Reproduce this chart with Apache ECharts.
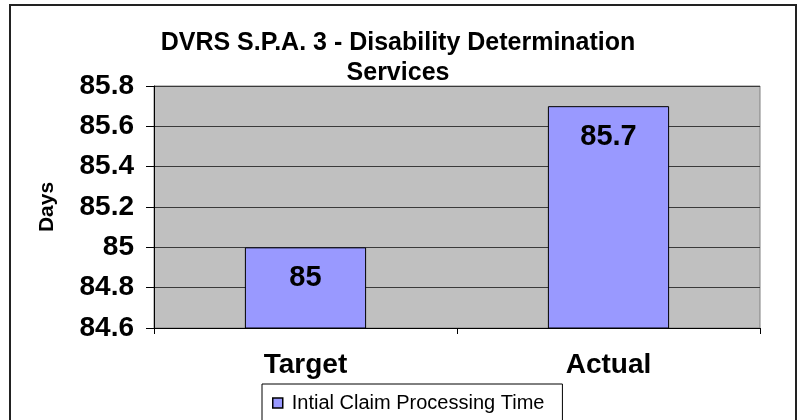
<!DOCTYPE html>
<html>
<head>
<meta charset="utf-8">
<script src="https://cdn.jsdelivr.net/npm/echarts@6/dist/echarts.min.js"></script>
<style>
    html, body { margin: 0; padding: 0; background: #fff; }
    #Root { width: 800px; height: 420px; }
</style>
</head>
<body>
<div id="Root"></div>
<script>
    // chart data
    const categories = ["Target", "Actual"]
    const processingDays = [85, 85.7]
    const seriesName = "Intial Claim Processing Time"
    const yMin = 84.6
    const yMax = 85.8
    const yStep = 0.2

    const FONT = '"Liberation Sans", Arial, sans-serif'

    let chart = echarts.init(document.getElementById("Root"), null, { renderer: 'canvas' })

    let options = {
        backgroundColor: '#ffffff',
        animation: false,
        title: {
            text: "DVRS S.P.A. 3 - Disability Determination\nServices",
            left: 398,
            top: 28,
            padding: 0,
            textAlign: 'center',
            textStyle: {
                fontFamily: FONT,
                fontWeight: 'bold',
                fontSize: 25,
                lineHeight: 30,
                color: '#000'
            }
        },
        legend: {
            data: [seriesName],
            left: 262,
            top: 384,
            padding: [9, 18, 12, 10],
            borderColor: '#000',
            borderWidth: 1,
            backgroundColor: '#fff',
            icon: 'rect',
            itemWidth: 10,
            itemHeight: 10,
            itemStyle: { borderColor: '#000', borderWidth: 1.5 },
            textStyle: { fontFamily: FONT, fontSize: 20, color: '#000', padding: [0, 4, 0, 4] }
        },
        grid: {
            left: 154,
            right: 40,
            top: 86,
            bottom: 92,
            show: true,
            backgroundColor: '#C0C0C0',
            borderColor: '#808080',
            borderWidth: 1
        },
        xAxis: {
            type: 'category',
            data: categories,
            axisLine: { lineStyle: { color: '#000', width: 1 } },
            axisTick: { show: true, length: 6, lineStyle: { color: '#000' } },
            axisLabel: {
                margin: 23,
                fontFamily: FONT,
                fontWeight: 'bold',
                fontSize: 28,
                color: '#000'
            }
        },
        yAxis: {
            type: 'value',
            min: yMin,
            max: yMax,
            interval: yStep,
            name: 'Days',
            nameLocation: 'middle',
            nameGap: 96,
            nameRotate: 90,
            nameTextStyle: { fontFamily: FONT, fontWeight: 'bold', fontSize: 21, color: '#000' },
            axisLine: { show: true, lineStyle: { color: '#000', width: 1 } },
            axisTick: { show: true, length: 8, lineStyle: { color: '#000' } },
            axisLabel: {
                margin: 20,
                fontFamily: FONT,
                fontWeight: 'bold',
                fontSize: 28,
                color: '#000'
            },
            splitLine: { show: true, lineStyle: { color: '#3a3a3a', width: 1 } }
        },
        series: [
            {
                name: seriesName,
                type: 'bar',
                data: processingDays,
                barWidth: '40%',
                itemStyle: { color: '#9999FF', borderColor: '#000', borderWidth: 1 },
                label: {
                    show: true,
                    position: 'insideTop',
                    distance: 16,
                    fontFamily: FONT,
                    fontWeight: 'bold',
                    fontSize: 29,
                    color: '#000'
                }
            }
        ],
        graphic: [
            {
                type: 'rect',
                shape: { x: 10, y: 5, width: 786, height: 450 },
                style: { fill: 'none', stroke: '#222', lineWidth: 2 },
                silent: true
            }
        ]
    }

    chart.setOption(options)
</script>
</body>
</html>
